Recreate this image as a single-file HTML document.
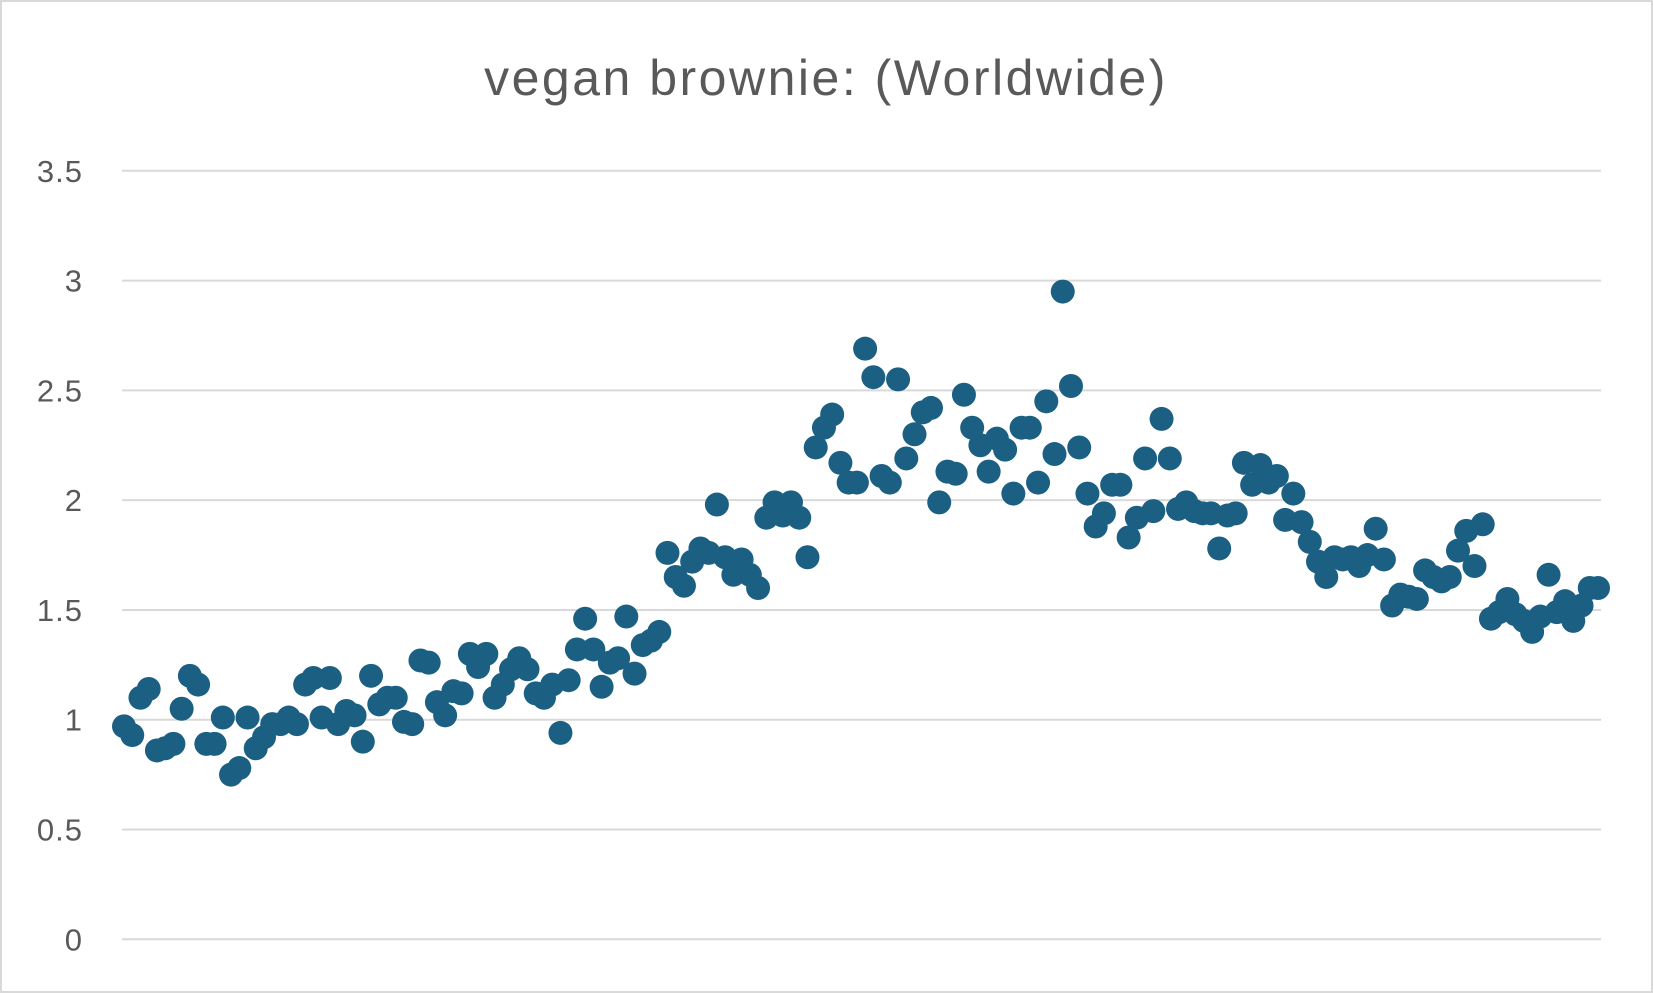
<!DOCTYPE html>
<html><head><meta charset="utf-8"><style>
html,body{margin:0;padding:0;background:#fff;}
svg{display:block;font-family:"Liberation Sans",sans-serif;}
</style></head><body>
<svg id="chart" width="1653" height="993" viewBox="0 0 1653 993" xmlns="http://www.w3.org/2000/svg">
<rect x="1" y="1" width="1651" height="991" fill="#fff" stroke="#d9d9d9" stroke-width="2"/>
<text x="826" y="95" text-anchor="middle" font-size="50" letter-spacing="2.5" fill="#595959">vegan brownie: (Worldwide)</text>
<g id="grid"></g><g id="ylabels"></g><g id="points"></g>
</svg>
<script>
const yTicks=[0,0.5,1,1.5,2,2.5,3,3.5];
const yTickLabels=["0","0.5","1","1.5","2","2.5","3","3.5"];
const values=[0.97,0.93,1.10,1.14,0.86,0.87,0.89,1.05,1.20,1.16,0.89,0.89,1.01,0.75,0.78,1.01,0.87,0.92,0.98,0.98,1.01,0.98,1.16,1.19,1.01,1.19,0.98,1.04,1.02,0.90,1.20,1.07,1.10,1.10,0.99,0.98,1.27,1.26,1.08,1.02,1.13,1.12,1.30,1.24,1.30,1.10,1.16,1.23,1.28,1.23,1.12,1.10,1.16,0.94,1.18,1.32,1.46,1.32,1.15,1.26,1.28,1.47,1.21,1.34,1.36,1.40,1.76,1.65,1.61,1.72,1.78,1.76,1.98,1.74,1.66,1.73,1.66,1.60,1.92,1.99,1.93,1.99,1.92,1.74,2.24,2.33,2.39,2.17,2.08,2.08,2.69,2.56,2.11,2.08,2.55,2.19,2.30,2.40,2.42,1.99,2.13,2.12,2.48,2.33,2.25,2.13,2.28,2.23,2.03,2.33,2.33,2.08,2.45,2.21,2.95,2.52,2.24,2.03,1.88,1.94,2.07,2.07,1.83,1.92,2.19,1.95,2.37,2.19,1.96,1.99,1.95,1.94,1.94,1.78,1.93,1.94,2.17,2.07,2.16,2.08,2.11,1.91,2.03,1.90,1.81,1.72,1.65,1.74,1.73,1.74,1.70,1.75,1.87,1.73,1.52,1.57,1.56,1.55,1.68,1.65,1.63,1.65,1.77,1.86,1.70,1.89,1.46,1.49,1.55,1.48,1.45,1.40,1.47,1.66,1.49,1.54,1.45,1.52,1.60,1.60];
const NS="http://www.w3.org/2000/svg";
const x0=124,x1=1598,y0=939.3,yTop=170.8,yMax=3.5;
function xs(i){return x0+(x1-x0)*i/(values.length-1);}
function ys(v){return y0-(y0-yTop)*v/yMax;}
const grid=document.getElementById('grid'),yl=document.getElementById('ylabels'),pts=document.getElementById('points');
yTicks.forEach((t,k)=>{
  const l=document.createElementNS(NS,'line');
  l.setAttribute('x1',122);l.setAttribute('x2',1601);
  l.setAttribute('y1',ys(t));l.setAttribute('y2',ys(t));
  l.setAttribute('stroke','#d9d9d9');l.setAttribute('stroke-width','2');
  
  
  grid.appendChild(l);
  const tx=document.createElementNS(NS,'text');
  tx.setAttribute('x',83);tx.setAttribute('y',ys(t)+11);
  tx.setAttribute('text-anchor','end');tx.setAttribute('font-size','31');tx.setAttribute('letter-spacing','1');tx.setAttribute('fill','#595959');
  tx.textContent=yTickLabels[k];
  
  
  yl.appendChild(tx);
});
values.forEach((v,i)=>{
  const c=document.createElementNS(NS,'circle');
  c.setAttribute('cx',xs(i));c.setAttribute('cy',ys(v));c.setAttribute('r',12);
  c.setAttribute('fill','#1b6083');
  
  
  pts.appendChild(c);
});
</script>
</body></html>
